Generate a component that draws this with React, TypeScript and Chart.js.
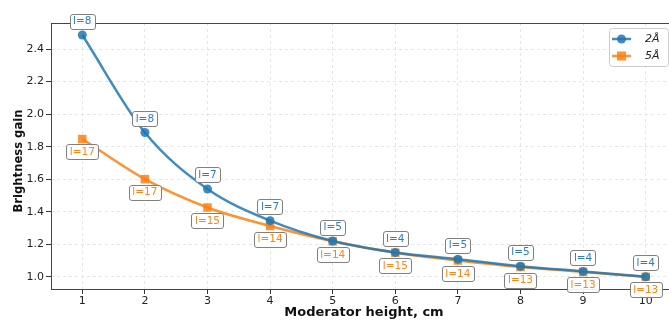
import React, { useEffect, useRef } from "react";
import { Chart, registerables } from "chart.js";

Chart.register(...registerables);

const heights = [1, 2, 3, 4, 5, 6, 7, 8, 9, 10];
const gain2A = [2.486, 1.887, 1.54, 1.345, 1.22, 1.15, 1.108, 1.065, 1.033, 1.0];
const gain5A = [1.847, 1.6, 1.426, 1.312, 1.218, 1.148, 1.1, 1.06, 1.03, 1.0];
const l2A = [8, 8, 7, 7, 5, 4, 5, 5, 4, 4];
const l5A = [17, 17, 15, 14, 14, 15, 14, 13, 13, 13];
const yTicks = [1.0, 1.2, 1.4, 1.6, 1.8, 2.0, 2.2, 2.4];
const seriesNames = ["2Å", "5Å"];

const BLUE = "rgba(31,119,180,0.85)";
const ORANGE = "rgba(255,127,14,0.85)";
const BLUE_TXT = "#2a7fc0";
const ORANGE_TXT = "#ff8418";
const FONT = "'DejaVu Sans', sans-serif";

function roundRect(ctx: CanvasRenderingContext2D, x: number, y: number, w: number, h: number, r: number) {
  ctx.beginPath();
  ctx.moveTo(x + r, y);
  ctx.lineTo(x + w - r, y);
  ctx.quadraticCurveTo(x + w, y, x + w, y + r);
  ctx.lineTo(x + w, y + h - r);
  ctx.quadraticCurveTo(x + w, y + h, x + w - r, y + h);
  ctx.lineTo(x + r, y + h);
  ctx.quadraticCurveTo(x, y + h, x, y + h - r);
  ctx.lineTo(x, y + r);
  ctx.quadraticCurveTo(x, y, x + r, y);
  ctx.closePath();
}

const decorPlugin = {
  id: "decor",
  beforeDatasetsDraw(chart: any) {
    const { ctx, chartArea } = chart;
    ctx.save();
    ctx.strokeStyle = "#444";
    ctx.lineWidth = 1;
    ctx.strokeRect(chartArea.left + 0.5, chartArea.top + 0.5, chartArea.right - chartArea.left, chartArea.bottom - chartArea.top);
    ctx.restore();
  },
  afterDraw(chart: any) {
    const { ctx, chartArea } = chart;
    const xs = chart.scales.x;
    const ys = chart.scales.y;
    ctx.save();
    // axis titles
    ctx.fillStyle = "#111";
    ctx.textAlign = "center";
    ctx.textBaseline = "middle";
    ctx.font = `bold 13px ${FONT}`;
    ctx.fillText("Moderator height, cm", (chartArea.left + chartArea.right) / 2, 313);
    ctx.save();
    ctx.translate(19, 161);
    ctx.rotate(-Math.PI / 2);
    ctx.font = `bold 11.6px ${FONT}`;
    ctx.fillText("Brightness gain", 0, 0);
    ctx.restore();

    // annotations
    const drawLabel = (text: string, cx: number, cy: number, color: string) => {
      ctx.font = `10.5px ${FONT}`;
      const w = ctx.measureText(text).width + 7;
      const h = 15;
      roundRect(ctx, Math.round(cx - w / 2) + 0.5, Math.round(cy - h / 2) + 0.5, Math.round(w), h, 2.5);
      ctx.fillStyle = "rgba(255,255,255,0.92)";
      ctx.fill();
      ctx.strokeStyle = "#808080";
      ctx.lineWidth = 1;
      ctx.stroke();
      ctx.fillStyle = color;
      ctx.textAlign = "center";
      ctx.textBaseline = "middle";
      ctx.fillText(text, cx, cy + 0.5);
    };
    heights.forEach((h, i) => {
      drawLabel(`l=${l2A[i]}`, xs.getPixelForValue(h), ys.getPixelForValue(gain2A[i]) - 14, BLUE_TXT);
      drawLabel(`l=${l5A[i]}`, xs.getPixelForValue(h), ys.getPixelForValue(gain5A[i]) + 13, ORANGE_TXT);
    });

    // legend
    const lx = 609, ly = 28, lw = 59, lh = 38;
    roundRect(ctx, lx + 0.5, ly + 0.5, lw, lh, 3);
    ctx.fillStyle = "rgba(255,255,255,0.85)";
    ctx.fill();
    ctx.strokeStyle = "#cccccc";
    ctx.stroke();
    const rows = [
      { y: 39, color: BLUE, shape: "circle", name: seriesNames[0] },
      { y: 56, color: ORANGE, shape: "square", name: seriesNames[1] },
    ];
    rows.forEach((r) => {
      ctx.strokeStyle = r.color;
      ctx.lineWidth = 2.5;
      ctx.beginPath();
      ctx.moveTo(612, r.y);
      ctx.lineTo(631, r.y);
      ctx.stroke();
      ctx.fillStyle = r.color;
      if (r.shape === "circle") {
        ctx.beginPath();
        ctx.arc(621.5, r.y, 4.5, 0, Math.PI * 2);
        ctx.fill();
      } else {
        ctx.fillRect(617, r.y - 4.5, 9, 9);
      }
      ctx.fillStyle = "#222";
      ctx.font = `italic 11px ${FONT}`;
      ctx.textAlign = "left";
      ctx.textBaseline = "middle";
      ctx.fillText(r.name, 645, r.y);
    });
    ctx.restore();
  },
};

export default function App() {
  const ref = useRef<HTMLCanvasElement | null>(null);
  useEffect(() => {
    document.body.style.margin = "0";
    document.body.style.overflow = "hidden";
    const canvas = ref.current!;
    const chart = new Chart(canvas, {
      type: "line",
      data: {
        datasets: [
          {
            label: seriesNames[0],
            data: heights.map((h, i) => ({ x: h, y: gain2A[i] })),
            borderColor: BLUE,
            backgroundColor: BLUE,
            borderWidth: 2.5,
            pointStyle: "circle",
            pointRadius: 4.5,
            pointBorderWidth: 0,
            cubicInterpolationMode: "monotone",
          },
          {
            label: seriesNames[1],
            data: heights.map((h, i) => ({ x: h, y: gain5A[i] })),
            borderColor: ORANGE,
            backgroundColor: ORANGE,
            borderWidth: 2.5,
            pointStyle: "rect",
            pointRadius: 6,
            pointBorderWidth: 0,
            cubicInterpolationMode: "monotone",
          },
        ],
      },
      options: {
        animation: false,
        responsive: false,
        maintainAspectRatio: false,
        layout: { padding: { top: 23, right: 13, left: 0, bottom: 0 } },
        plugins: { legend: { display: false }, tooltip: { enabled: false } },
        scales: {
          x: {
            type: "linear",
            min: 0.5,
            max: 10.5,
            afterBuildTicks: (s: any) => {
              s.ticks = heights.map((v) => ({ value: v }));
            },
            afterFit: (s: any) => {
              s.height = 32;
            },
            ticks: {
              font: { family: FONT, size: 11 },
              color: "#222",
              padding: 1,
              maxRotation: 0,
              callback: (v: any) => String(v),
            },
            grid: { color: "#e0e0e0", lineWidth: 0.8, tickLength: 5, tickColor: "#333", tickWidth: 1 },
            border: { display: false, dash: [3, 3] },
          },
          y: {
            type: "linear",
            min: 0.925,
            max: 2.56,
            afterBuildTicks: (s: any) => {
              s.ticks = yTicks.map((v) => ({ value: v }));
            },
            afterFit: (s: any) => {
              s.width = 51;
            },
            ticks: {
              font: { family: FONT, size: 11 },
              color: "#222",
              padding: 2,
              callback: (v: any) => Number(v).toFixed(1),
            },
            grid: { color: "#e0e0e0", lineWidth: 0.8, tickLength: 5, tickColor: "#333", tickWidth: 1 },
            border: { display: false, dash: [3, 3] },
          },
        },
      },
      plugins: [decorPlugin],
    } as any);
    return () => chart.destroy();
  }, []);
  return (
    <div style={{ position: "absolute", left: 0, top: 0, width: 690, height: 321, overflow: "hidden" }}>
      <canvas ref={ref} width={690} height={321} style={{ width: 690, height: 321, display: "block" }} />
    </div>
  );
}
